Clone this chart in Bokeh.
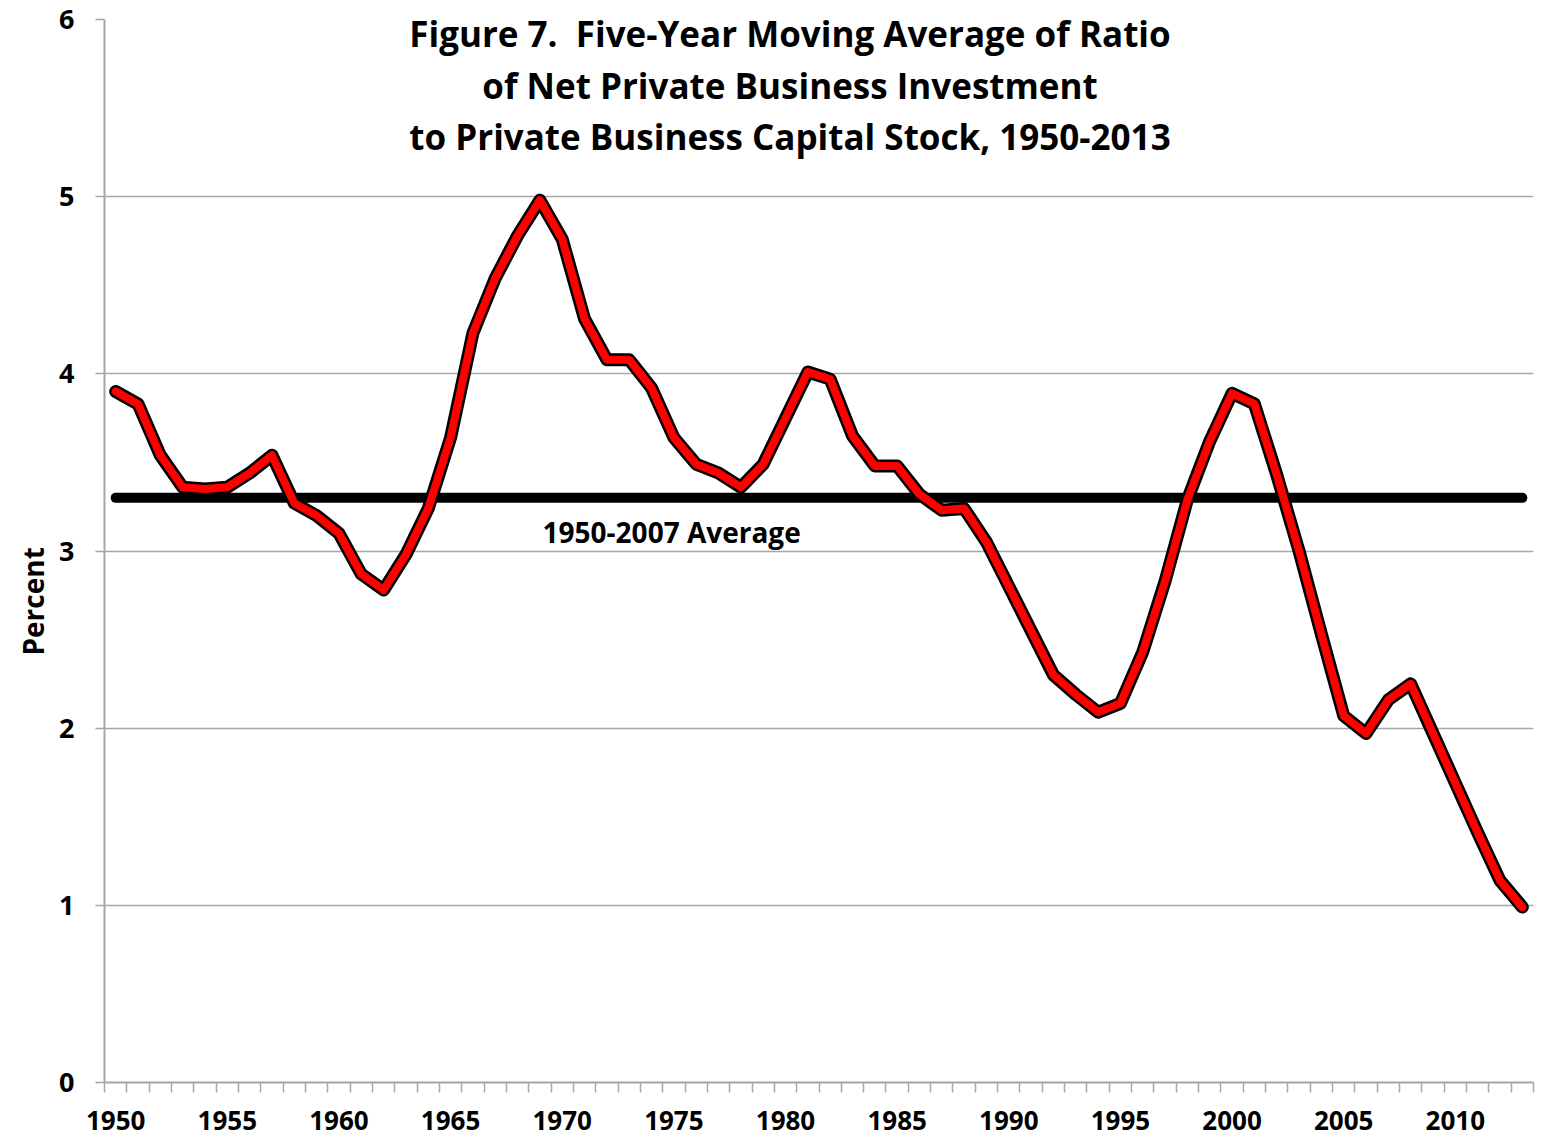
from bokeh.plotting import figure
from bokeh.models import Range1d, FixedTicker, Label, Title
from bokeh.embed import file_html
from bokeh.resources import INLINE

years = list(range(1950, 2014))
ratio = [3.90, 3.83, 3.54, 3.36, 3.35, 3.36, 3.44, 3.54, 3.27, 3.20,
         3.10, 2.87, 2.78, 2.98, 3.24, 3.64, 4.23, 4.54, 4.78, 4.98,
         4.76, 4.31, 4.08, 4.08, 3.92, 3.64, 3.49, 3.44, 3.36, 3.49,
         3.75, 4.01, 3.97, 3.65, 3.48, 3.48, 3.32, 3.23, 3.24, 3.05,
         2.80, 2.55, 2.30, 2.19, 2.09, 2.14, 2.43, 2.83, 3.29, 3.62,
         3.89, 3.83, 3.43, 3.00, 2.53, 2.07, 1.97, 2.16, 2.25, 1.97,
         1.69, 1.41, 1.14, 0.99]
average_1950_2007 = 3.30
y_ticks = [0, 1, 2, 3, 4, 5, 6]
label_years = years[::5]
title_lines = ["Figure 7.\u00a0 Five-Year Moving Average of Ratio",
               "of Net Private Business Investment",
               "to Private Business Capital Stock, 1950-2013"]
avg_label = "1950-2007 Average"
y_title = "Percent"

FONT = "Open Sans"
GRAY = "#a6a6a6"

p = figure(width=1535, height=1136, output_backend="svg", toolbar_location=None,
           x_range=Range1d(years[0] - 0.5, years[-1] + 0.5),
           y_range=Range1d(y_ticks[0], y_ticks[-1]),
           min_border_left=104, min_border_right=2, min_border_top=19,
           min_border_bottom=54)
p.outline_line_color = None
p.background_fill_color = "white"
p.border_fill_color = "white"

# x axis: labels every 5 years, ticks between categories
p.xaxis.ticker = FixedTicker(ticks=label_years,
                             minor_ticks=[y - 0.5 for y in years] + [years[-1] + 0.5])
p.xaxis.major_tick_line_color = None
p.xaxis.major_tick_out = 0
p.xaxis.major_tick_in = 0
p.xaxis.minor_tick_line_color = GRAY
p.xaxis.minor_tick_line_width = 1.5
p.xaxis.minor_tick_out = 10
p.xaxis.minor_tick_in = 0
p.xaxis.axis_line_color = GRAY
p.xaxis.axis_line_width = 2
p.xaxis.major_label_standoff = 18
p.xaxis.major_label_text_font = FONT
p.xaxis.major_label_text_font_style = "bold"
p.xaxis.major_label_text_font_size = "26px"
p.xaxis.major_label_text_color = "black"
p.xgrid.grid_line_color = None

p.yaxis.ticker = FixedTicker(ticks=y_ticks)
p.yaxis.minor_tick_line_color = None
p.yaxis.major_tick_out = 9
p.yaxis.major_tick_in = 0
p.yaxis.major_tick_line_color = GRAY
p.yaxis.major_tick_line_width = 1.5
p.yaxis.axis_line_color = GRAY
p.yaxis.axis_line_width = 2
p.yaxis.major_label_standoff = 21
p.yaxis.major_label_text_font = FONT
p.yaxis.major_label_text_font_style = "bold"
p.yaxis.major_label_text_font_size = "27px"
p.yaxis.major_label_text_color = "black"
p.ygrid.grid_line_color = GRAY
p.ygrid.grid_line_width = 1.5

# y axis title, a little below the middle as in the original
p.add_layout(Title(text=y_title, align="left", offset=427, standoff=10,
                   text_font=FONT, text_font_style="bold", text_font_size="28px",
                   text_color="black"), "left")

# average line
p.line(x=[years[0], years[-1]], y=[average_1950_2007, average_1950_2007],
       line_color="black", line_width=10, line_cap="round")

# data line: black outline + red core
p.line(x=years, y=ratio, line_color="black", line_width=13, line_join="round",
       line_cap="round")
p.line(x=years, y=ratio, line_color="#ff0000", line_width=8, line_join="round",
       line_cap="round")

p.add_layout(Label(x=1974.9, y=average_1950_2007, y_offset=-34, text=avg_label,
                   text_font=FONT, text_font_style="bold", text_font_size="28px",
                   text_align="center", text_baseline="middle", text_color="black"))

for i, line in enumerate(title_lines):
    p.add_layout(Label(x=1980.2, y=5.92 - 0.29 * i, text=line,
                       text_font=FONT, text_font_style="bold", text_font_size="35px",
                       text_align="center", text_baseline="middle",
                       text_color="black"))

open("out.html", "w").write(file_html(p, INLINE))
